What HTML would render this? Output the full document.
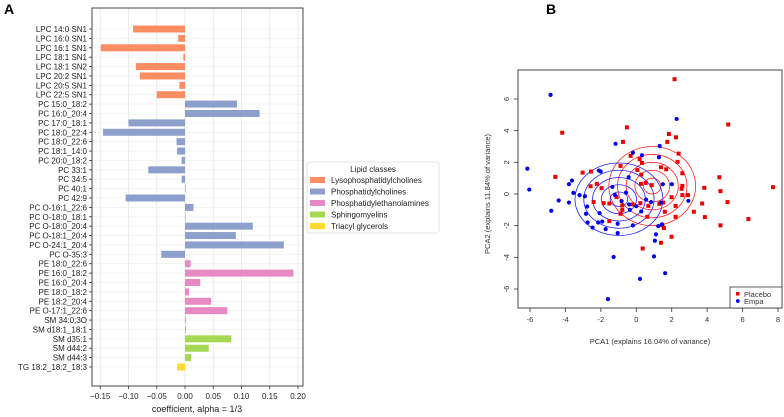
<!DOCTYPE html>
<html><head><meta charset="utf-8">
<style>
html,body{margin:0;padding:0;background:#fff;}
svg{display:block;font-family:"Liberation Sans","DejaVu Sans",sans-serif;}
</style></head>
<body>
<svg id="fig" width="784" height="417" viewBox="0 0 784 417">
<text x="4" y="14" font-size="14" font-weight="bold">A</text>
<text x="546" y="14" font-size="14" font-weight="bold">B</text>
<g id="pa"></g>
<g id="pb"></g>
</svg>
<script>
const lipids=["LPC 14:0 SN1","LPC 16:0 SN1","LPC 16:1 SN1","LPC 18:1 SN1","LPC 18:1 SN2","LPC 20:2 SN1","LPC 20:5 SN1","LPC 22:5 SN1","PC 15:0_18:2","PC 16:0_20:4","PC 17:0_18:1","PC 18:0_22:4","PC 18:0_22:6","PC 18:1_14:0","PC 20:0_18:2","PC 33:1","PC 34:5","PC 40:1","PC 42:9","PC O-16:1_22:6","PC O-18:0_18:1","PC O-18:0_20:4","PC O-18:1_20:4","PC O-24:1_20:4","PC O-35:3","PE 18:0_22:6","PE 16:0_18:2","PE 16:0_20:4","PE 18:0_18:2","PE 18:2_20:4","PE O-17:1_22:6","SM 34:0;3O","SM d18:1_18:1","SM d35:1","SM d44:2","SM d44:3","TG 18:2_18:2_18:3"];
const coefs=[-0.092,-0.012,-0.149,-0.003,-0.087,-0.080,-0.010,-0.050,0.092,0.132,-0.100,-0.145,-0.015,-0.014,-0.006,-0.065,-0.006,0.0,-0.105,0.015,0.001,0.120,0.090,0.175,-0.042,0.010,0.192,0.027,0.007,0.046,0.075,0.002,0.002,0.082,0.042,0.011,-0.014];
const classes=["LPC","LPC","LPC","LPC","LPC","LPC","LPC","LPC","PC","PC","PC","PC","PC","PC","PC","PC","PC","PC","PC","PC","PC","PC","PC","PC","PC","PE","PE","PE","PE","PE","PE","SM","SM","SM","SM","SM","TG"];
const classNames=["Lysophosphatidylcholines","Phosphatidylcholines","Phosphatidylethanolamines","Sphingomyelins","Triacyl glycerols"];
const classKeys=["LPC","PC","PE","SM","TG"];
const xTicksA=[-0.15,-0.10,-0.05,0.00,0.05,0.10,0.15,0.20];

const placeboX=[2.16,5.19,-4.18,-0.53,-0.75,1.84,2.24,1.75,2.39,-0.32,0.19,0.32,2.33,-4.57,-3.03,-2.56,-0.89,0.06,1.39,1.69,2.6,0.28,4.69,0.53,0.26,0.87,-2.58,-2.23,-1.96,2.6,2.56,3.84,7.72,4.75,2.6,2.92,1.99,-1.11,-2.41,-1.84,-1.52,0.23,-0.21,-0.79,0.68,1.3,1.52,2.22,3.72,5.15,-0.89,-0.79,1.61,3.25,3.87,2.22,6.33,-1.52,0.62,1.48,1.56,4.75,1.99,1.39,0.36];
const placeboY=[7.25,4.39,3.87,4.21,3.29,3.79,3.58,3.29,2.55,2.41,2.2,1.96,2.03,1.08,1.35,1.42,1.77,1.52,1.69,1.56,1.31,1.23,1.06,0.7,0.64,0.56,0.49,0.64,0.37,0.51,0.33,0.39,0.43,0.18,-0.07,-0.07,-0.2,-0.2,-0.51,-0.58,-0.6,-0.58,-0.66,-0.72,-0.75,-0.62,-0.54,-0.75,-0.6,-0.51,-1.25,-1.0,-1.12,-1.12,-1.46,-1.44,-1.58,-1.71,-1.44,-1.98,-2.15,-1.98,-2.7,-3.08,-3.44];
const empaX=[-4.84,2.28,-1.17,1.32,-0.19,0.32,1.28,-6.15,-2.11,-2.01,-0.43,-3.63,-3.8,-6.04,-3.55,-3.2,-2.9,-1.35,-0.58,1.5,2.01,0.55,-4.38,-3.8,-1.2,-0.83,-2.77,-0.41,0,0.83,1.39,2.94,-4.8,-2.84,-2.07,-0.36,0.28,-2.75,-1.92,-2.15,-2.47,-1.05,-1.73,-1.05,-0.19,1.24,1.45,1.11,1.05,1.0,-1.28,1.63,0.21,-1.6];
const empaY=[6.26,4.74,3.17,3.03,2.61,2.45,2.32,1.6,1.48,1.42,1.06,0.85,0.62,0.28,0.07,-0.07,-0.14,0.45,0.09,0.62,0.62,-0.35,-0.41,-0.54,-0.07,-0.45,-0.79,-0.66,-0.77,-0.51,-0.54,-0.43,-1.06,-1.25,-1.21,-1.0,-1.1,-1.8,-1.74,-1.8,-2.12,-1.88,-2.22,-2.47,-1.98,-2.03,-1.92,-2.55,-2.95,-3.94,-3.98,-5.0,-5.36,-6.64];
const xTicksB=[-6,-4,-2,0,2,4,6,8];
const yTicksB=[-6,-4,-2,0,2,4,6];
const ellipseCenters=[[0.9,0.5],[-0.98,-0.33]];
const ellipseRadii=[[2.45,2.5],[2.48,2.29]];
const ellipseLevels=[0.2,0.4,0.6,0.8,1.0];

const NS="http://www.w3.org/2000/svg";
function mk(parent,tag,attrs){const e=document.createElementNS(NS,tag);for(const k in attrs)e.setAttribute(k,attrs[k]);parent.appendChild(e);return e;}
const colors={LPC:"#fc8d62",PC:"#8da0cb",PE:"#e78ac3",SM:"#a6d854",TG:"#ffd92f"};

// Panel A
const pa=document.getElementById("pa");
const A={l:92,t:8,r:303,b:386};
const xA=v=>185+v*565;
const rowA=i=>29+i*(338/36);
mk(pa,"rect",{x:A.l,y:A.t,width:A.r-A.l,height:A.b-A.t,fill:"#fff"});
xTicksA.forEach(t=>{
  const g=mk(pa,"line",{x1:xA(t),x2:xA(t),y1:A.t,y2:A.b,stroke:"#e6e6e6","stroke-width":0.8});
  
  
  mk(pa,"line",{x1:xA(t),x2:xA(t),y1:A.b,y2:A.b+3,stroke:"#333","stroke-width":0.8});
  const tx=mk(pa,"text",{x:xA(t),y:A.b+13,"font-size":8,"text-anchor":"middle",fill:"#222"});
  tx.textContent=(t<0?"\u2212":"")+Math.abs(t).toFixed(2);
  
  
});
lipids.forEach((n,i)=>{
  const y=rowA(i);
  mk(pa,"line",{x1:A.l,x2:A.r,y1:y,y2:y,stroke:"#ececec","stroke-width":0.6});
  const v=coefs[i];
  const b=mk(pa,"rect",{x:Math.min(xA(0),xA(v)),y:y-3.5,width:Math.max(Math.abs(xA(v)-xA(0)),0.6),height:7,fill:colors[classes[i]]});
  
  
  mk(pa,"line",{x1:A.l-3,x2:A.l,y1:y,y2:y,stroke:"#333","stroke-width":0.8});
  const t=mk(pa,"text",{x:A.l-5,y:y+3,"font-size":8,"text-anchor":"end",fill:"#222"});
  t.textContent=n;
  
  
});
mk(pa,"rect",{x:A.l,y:A.t,width:A.r-A.l,height:A.b-A.t,fill:"none",stroke:"#333","stroke-width":0.9});
const xlA=mk(pa,"text",{x:197,y:412,"font-size":9,"text-anchor":"middle",fill:"#222"});
xlA.textContent="coefficient, alpha = 1/3";


// legend A
const lg=mk(pa,"g",{});


mk(lg,"rect",{x:307,y:162,width:132,height:71,fill:"#fff",stroke:"#ddd","stroke-width":0.8,rx:2});
const lt=mk(lg,"text",{x:373,y:172,"font-size":8,"text-anchor":"middle",fill:"#222"});
lt.textContent="Lipid classes";
classNames.forEach((c,i)=>{
  const y=180+i*11.5;
  const e=mk(lg,"g",{});
  
  
  mk(e,"rect",{x:310,y:y-3,width:15,height:6,fill:colors[classKeys[i]]});
  const t=mk(e,"text",{x:331,y:y+3,"font-size":8,fill:"#222"});
  t.textContent=c;
});

// Panel B
const pb=document.getElementById("pb");
const B={l:518,t:70,r:782,b:308};
const xB=v=>530+(v+6)*(248/14);
const yB=v=>194-v*(190/12);
ellipseCenters.forEach((c,k)=>{
  ellipseLevels.forEach(f=>{
    const e=mk(pb,"ellipse",{cx:xB(c[0]),cy:yB(c[1]),rx:ellipseRadii[k][0]*f*(248/14),ry:ellipseRadii[k][1]*f*(190/12),fill:"none",stroke:k==0?"#ff2020":"#2020ff","stroke-width":0.8});
    
    
  });
});
placeboX.forEach((x,i)=>{
  const p=mk(pb,"rect",{x:xB(x)-2,y:yB(placeboY[i])-2,width:4,height:4,fill:"#ee0000"});
  
  
});
empaX.forEach((x,i)=>{
  const p=mk(pb,"circle",{cx:xB(x),cy:yB(empaY[i]),r:2.1,fill:"#0000ee"});
  
  
});
mk(pb,"rect",{x:B.l,y:B.t,width:B.r-B.l,height:B.b-B.t,fill:"none",stroke:"#333","stroke-width":0.9});
xTicksB.forEach(t=>{
  mk(pb,"line",{x1:xB(t),x2:xB(t),y1:B.b,y2:B.b+4,stroke:"#333","stroke-width":0.8});
  const tx=mk(pb,"text",{x:xB(t),y:B.b+14,"font-size":7.5,"text-anchor":"middle",fill:"#333"});
  tx.textContent=t;
  
  
});
yTicksB.forEach(t=>{
  mk(pb,"line",{x1:B.l-4,x2:B.l,y1:yB(t),y2:yB(t),stroke:"#333","stroke-width":0.8});
  const tx=mk(pb,"text",{x:B.l-9,y:yB(t),"font-size":7.5,"text-anchor":"middle",fill:"#333",transform:`rotate(-90 ${B.l-9} ${yB(t)})`});
  tx.textContent=t;
  
  
});
const xlB=mk(pb,"text",{x:650,y:344,"font-size":7.5,"text-anchor":"middle",fill:"#333"});
xlB.textContent="PCA1 (explains 16.04% of variance)";


const ylB=mk(pb,"text",{x:490,y:194,"font-size":7.5,"text-anchor":"middle",fill:"#333",transform:"rotate(-90 490 194)"});
ylB.textContent="PCA2 (explains 11.84% of variance)";


const lb=mk(pb,"g",{});


mk(lb,"rect",{x:730,y:287,width:52,height:21,fill:"#fff",stroke:"#333","stroke-width":0.8});
mk(lb,"rect",{x:736,y:292,width:3.5,height:3.5,fill:"#ee0000"});
mk(lb,"circle",{cx:737.8,cy:301,r:1.9,fill:"#0000ee"});
const l1=mk(lb,"text",{x:744,y:297,"font-size":7.5,fill:"#333"});l1.textContent="Placebo";
const l2=mk(lb,"text",{x:744,y:304,"font-size":7.5,fill:"#333"});l2.textContent="Empa";
</script>
</body></html>
